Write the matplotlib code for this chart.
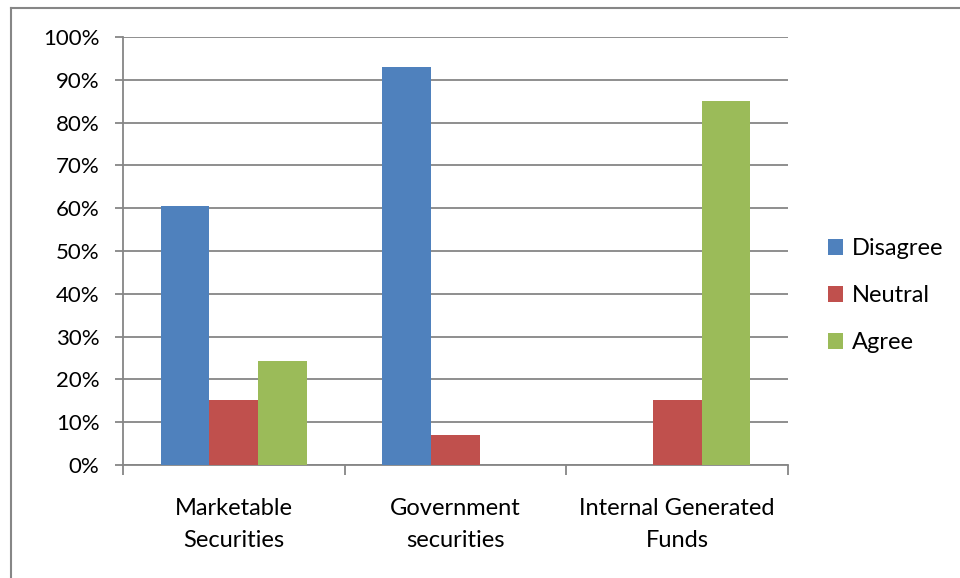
import numpy as np
import matplotlib.pyplot as plt
from matplotlib.lines import Line2D
from matplotlib.ticker import FuncFormatter

categories = ['Marketable\nSecurities', 'Government\nsecurities', 'Internal Generated\nFunds']
series = ['Disagree', 'Neutral', 'Agree']
disagree = [60.5, 93.0, 0.0]
neutral = [15.2, 7.0, 15.2]
agree = [24.3, 0.0, 85.0]
colours = ['#4F81BD', '#C0504D', '#9BBB59']

plt.rcParams['font.family'] = ['Lato', 'DejaVu Sans']

fig = plt.figure(figsize=(9.6, 5.78), dpi=100)
ax = fig.add_axes([123 / 960, 1 - 465 / 578, (788 - 123) / 960, (465 - 37) / 578])

x = np.arange(len(categories))
width = 0.22
for i, (name, vals, col) in enumerate(zip(series, [disagree, neutral, agree], colours)):
    ax.bar(x + (i - 1) * width, vals, width, color=col, label=name, zorder=3)

ax.set_xlim(-0.5, len(categories) - 0.5)
ax.set_ylim(0, 100)
ax.set_yticks(range(0, 101, 10))
ax.yaxis.set_major_formatter(FuncFormatter(lambda v, p: f'{v:.0f}%'))
ax.grid(axis='y', color='#868686', linewidth=1.3, zorder=0)

# category labels centred, ticks at the boundaries
ax.set_xticks(x)
ax.set_xticklabels(categories, fontsize=17, linespacing=1.62)
ax.tick_params(axis='x', length=0, pad=24)
ax.set_xticks(np.arange(-0.5, len(categories)), minor=True)
ax.tick_params(axis='x', which='minor', length=7, color='#868686', width=1.3)
ax.tick_params(axis='y', length=6, color='#868686', width=1.3, labelsize=16, pad=11)

for s in ['top', 'right']:
    ax.spines[s].set_visible(False)
for s in ['left', 'bottom']:
    ax.spines[s].set_color('#868686')
    ax.spines[s].set_linewidth(1.3)

ax.legend(loc='center left', bbox_to_anchor=(1.046, 0.395), frameon=False,
          fontsize=17, handlelength=0.65, handleheight=0.65,
          handletextpad=0.35, labelspacing=1.1, borderaxespad=0.0)

# outer chart border (left and top edges visible)
fig.add_artist(Line2D([10.5 / 960, 10.5 / 960], [0, 1 - 7.5 / 578],
                      transform=fig.transFigure, color='#868686', linewidth=1.5))
fig.add_artist(Line2D([10.5 / 960, 1], [1 - 7.5 / 578, 1 - 7.5 / 578],
                      transform=fig.transFigure, color='#868686', linewidth=1.5))

fig.savefig('out.png', dpi=100)
